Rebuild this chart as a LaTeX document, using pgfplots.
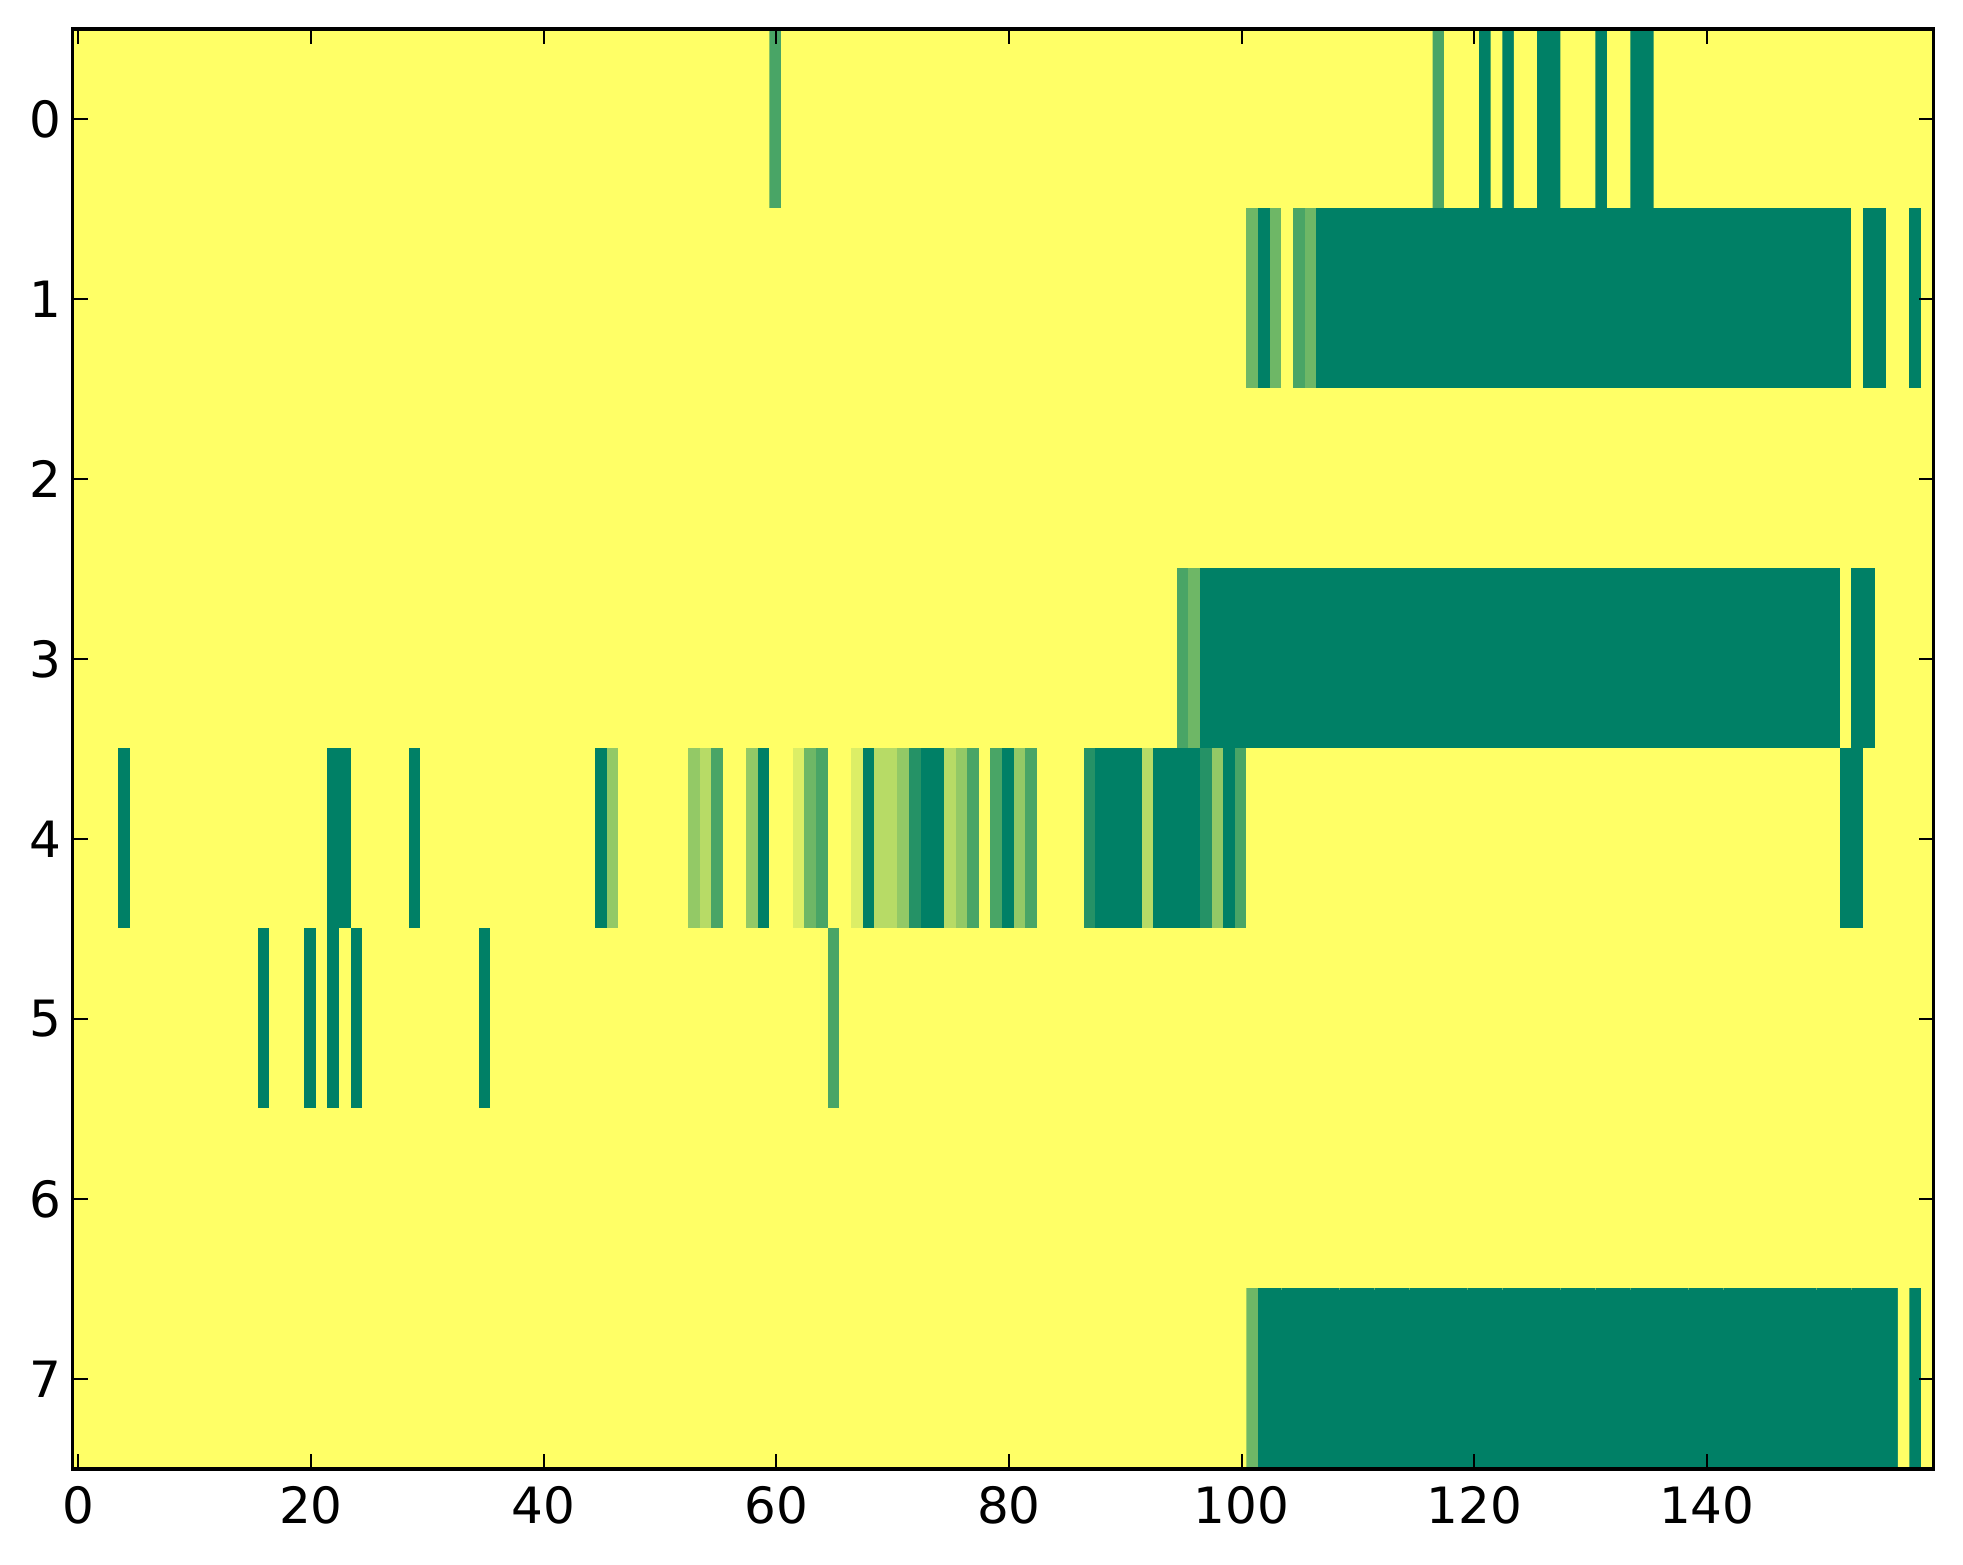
\documentclass[border=0pt]{standalone}
\usepackage{pgfplots}
\usepackage{pgfplotstable}
\pgfplotsset{compat=1.18}
\usepackage{fontspec}
\setmainfont{DejaVu Sans}
% values on a 0..7 scale, 8 rows x 160 columns, row by row
\pgfplotstableread[row sep=\\]{
c\\
7\\7\\7\\7\\7\\7\\7\\7\\7\\7\\ % r0 c0
7\\7\\7\\7\\7\\7\\7\\7\\7\\7\\ % r0 c10
7\\7\\7\\7\\7\\7\\7\\7\\7\\7\\ % r0 c20
7\\7\\7\\7\\7\\7\\7\\7\\7\\7\\ % r0 c30
7\\7\\7\\7\\7\\7\\7\\7\\7\\7\\ % r0 c40
7\\7\\7\\7\\7\\7\\7\\7\\7\\7\\ % r0 c50
2\\7\\7\\7\\7\\7\\7\\7\\7\\7\\ % r0 c60
7\\7\\7\\7\\7\\7\\7\\7\\7\\7\\ % r0 c70
7\\7\\7\\7\\7\\7\\7\\7\\7\\7\\ % r0 c80
7\\7\\7\\7\\7\\7\\7\\7\\7\\7\\ % r0 c90
7\\7\\7\\7\\7\\7\\7\\7\\7\\7\\ % r0 c100
7\\7\\7\\7\\7\\7\\7\\2\\7\\7\\ % r0 c110
7\\0\\7\\0\\7\\7\\0\\0\\7\\7\\ % r0 c120
7\\0\\7\\7\\0\\0\\7\\7\\7\\7\\ % r0 c130
7\\7\\7\\7\\7\\7\\7\\7\\7\\7\\ % r0 c140
7\\7\\7\\7\\7\\7\\7\\7\\7\\7\\ % r0 c150
7\\7\\7\\7\\7\\7\\7\\7\\7\\7\\ % r1 c0
7\\7\\7\\7\\7\\7\\7\\7\\7\\7\\ % r1 c10
7\\7\\7\\7\\7\\7\\7\\7\\7\\7\\ % r1 c20
7\\7\\7\\7\\7\\7\\7\\7\\7\\7\\ % r1 c30
7\\7\\7\\7\\7\\7\\7\\7\\7\\7\\ % r1 c40
7\\7\\7\\7\\7\\7\\7\\7\\7\\7\\ % r1 c50
7\\7\\7\\7\\7\\7\\7\\7\\7\\7\\ % r1 c60
7\\7\\7\\7\\7\\7\\7\\7\\7\\7\\ % r1 c70
7\\7\\7\\7\\7\\7\\7\\7\\7\\7\\ % r1 c80
7\\7\\7\\7\\7\\7\\7\\7\\7\\7\\ % r1 c90
7\\3\\0\\3\\7\\2\\3\\0\\0\\0\\ % r1 c100
0\\0\\0\\0\\0\\0\\0\\0\\0\\0\\ % r1 c110
0\\0\\0\\0\\0\\0\\0\\0\\0\\0\\ % r1 c120
0\\0\\0\\0\\0\\0\\0\\0\\0\\0\\ % r1 c130
0\\0\\0\\0\\0\\0\\0\\0\\0\\0\\ % r1 c140
0\\0\\0\\7\\0\\0\\7\\7\\0\\7\\ % r1 c150
7\\7\\7\\7\\7\\7\\7\\7\\7\\7\\ % r2 c0
7\\7\\7\\7\\7\\7\\7\\7\\7\\7\\ % r2 c10
7\\7\\7\\7\\7\\7\\7\\7\\7\\7\\ % r2 c20
7\\7\\7\\7\\7\\7\\7\\7\\7\\7\\ % r2 c30
7\\7\\7\\7\\7\\7\\7\\7\\7\\7\\ % r2 c40
7\\7\\7\\7\\7\\7\\7\\7\\7\\7\\ % r2 c50
7\\7\\7\\7\\7\\7\\7\\7\\7\\7\\ % r2 c60
7\\7\\7\\7\\7\\7\\7\\7\\7\\7\\ % r2 c70
7\\7\\7\\7\\7\\7\\7\\7\\7\\7\\ % r2 c80
7\\7\\7\\7\\7\\7\\7\\7\\7\\7\\ % r2 c90
7\\7\\7\\7\\7\\7\\7\\7\\7\\7\\ % r2 c100
7\\7\\7\\7\\7\\7\\7\\7\\7\\7\\ % r2 c110
7\\7\\7\\7\\7\\7\\7\\7\\7\\7\\ % r2 c120
7\\7\\7\\7\\7\\7\\7\\7\\7\\7\\ % r2 c130
7\\7\\7\\7\\7\\7\\7\\7\\7\\7\\ % r2 c140
7\\7\\7\\7\\7\\7\\7\\7\\7\\7\\ % r2 c150
7\\7\\7\\7\\7\\7\\7\\7\\7\\7\\ % r3 c0
7\\7\\7\\7\\7\\7\\7\\7\\7\\7\\ % r3 c10
7\\7\\7\\7\\7\\7\\7\\7\\7\\7\\ % r3 c20
7\\7\\7\\7\\7\\7\\7\\7\\7\\7\\ % r3 c30
7\\7\\7\\7\\7\\7\\7\\7\\7\\7\\ % r3 c40
7\\7\\7\\7\\7\\7\\7\\7\\7\\7\\ % r3 c50
7\\7\\7\\7\\7\\7\\7\\7\\7\\7\\ % r3 c60
7\\7\\7\\7\\7\\7\\7\\7\\7\\7\\ % r3 c70
7\\7\\7\\7\\7\\7\\7\\7\\7\\7\\ % r3 c80
7\\7\\7\\7\\7\\2\\3\\0\\0\\0\\ % r3 c90
0\\0\\0\\0\\0\\0\\0\\0\\0\\0\\ % r3 c100
0\\0\\0\\0\\0\\0\\0\\0\\0\\0\\ % r3 c110
0\\0\\0\\0\\0\\0\\0\\0\\0\\0\\ % r3 c120
0\\0\\0\\0\\0\\0\\0\\0\\0\\0\\ % r3 c130
0\\0\\0\\0\\0\\0\\0\\0\\0\\0\\ % r3 c140
0\\0\\7\\0\\0\\7\\7\\7\\7\\7\\ % r3 c150
7\\7\\7\\7\\0\\7\\7\\7\\7\\7\\ % r4 c0
7\\7\\7\\7\\7\\7\\7\\7\\7\\7\\ % r4 c10
7\\7\\0\\0\\7\\7\\7\\7\\7\\0\\ % r4 c20
7\\7\\7\\7\\7\\7\\7\\7\\7\\7\\ % r4 c30
7\\7\\7\\7\\7\\0\\4\\7\\7\\7\\ % r4 c40
7\\7\\7\\4\\5\\2\\7\\7\\4\\0\\ % r4 c50
7\\7\\6\\3\\2\\7\\7\\6\\0\\5\\ % r4 c60
5\\4\\1\\0\\0\\5\\4\\2\\7\\2\\ % r4 c70
0\\4\\2\\7\\7\\7\\7\\1\\0\\0\\ % r4 c80
0\\0\\5\\0\\0\\0\\0\\1\\4\\0\\ % r4 c90
2\\7\\7\\7\\7\\7\\7\\7\\7\\7\\ % r4 c100
7\\7\\7\\7\\7\\7\\7\\7\\7\\7\\ % r4 c110
7\\7\\7\\7\\7\\7\\7\\7\\7\\7\\ % r4 c120
7\\7\\7\\7\\7\\7\\7\\7\\7\\7\\ % r4 c130
7\\7\\7\\7\\7\\7\\7\\7\\7\\7\\ % r4 c140
7\\7\\0\\0\\7\\7\\7\\7\\7\\7\\ % r4 c150
7\\7\\7\\7\\7\\7\\7\\7\\7\\7\\ % r5 c0
7\\7\\7\\7\\7\\7\\0\\7\\7\\7\\ % r5 c10
0\\7\\0\\7\\0\\7\\7\\7\\7\\7\\ % r5 c20
7\\7\\7\\7\\7\\0\\7\\7\\7\\7\\ % r5 c30
7\\7\\7\\7\\7\\7\\7\\7\\7\\7\\ % r5 c40
7\\7\\7\\7\\7\\7\\7\\7\\7\\7\\ % r5 c50
7\\7\\7\\7\\7\\2\\7\\7\\7\\7\\ % r5 c60
7\\7\\7\\7\\7\\7\\7\\7\\7\\7\\ % r5 c70
7\\7\\7\\7\\7\\7\\7\\7\\7\\7\\ % r5 c80
7\\7\\7\\7\\7\\7\\7\\7\\7\\7\\ % r5 c90
7\\7\\7\\7\\7\\7\\7\\7\\7\\7\\ % r5 c100
7\\7\\7\\7\\7\\7\\7\\7\\7\\7\\ % r5 c110
7\\7\\7\\7\\7\\7\\7\\7\\7\\7\\ % r5 c120
7\\7\\7\\7\\7\\7\\7\\7\\7\\7\\ % r5 c130
7\\7\\7\\7\\7\\7\\7\\7\\7\\7\\ % r5 c140
7\\7\\7\\7\\7\\7\\7\\7\\7\\7\\ % r5 c150
7\\7\\7\\7\\7\\7\\7\\7\\7\\7\\ % r6 c0
7\\7\\7\\7\\7\\7\\7\\7\\7\\7\\ % r6 c10
7\\7\\7\\7\\7\\7\\7\\7\\7\\7\\ % r6 c20
7\\7\\7\\7\\7\\7\\7\\7\\7\\7\\ % r6 c30
7\\7\\7\\7\\7\\7\\7\\7\\7\\7\\ % r6 c40
7\\7\\7\\7\\7\\7\\7\\7\\7\\7\\ % r6 c50
7\\7\\7\\7\\7\\7\\7\\7\\7\\7\\ % r6 c60
7\\7\\7\\7\\7\\7\\7\\7\\7\\7\\ % r6 c70
7\\7\\7\\7\\7\\7\\7\\7\\7\\7\\ % r6 c80
7\\7\\7\\7\\7\\7\\7\\7\\7\\7\\ % r6 c90
7\\7\\7\\7\\7\\7\\7\\7\\7\\7\\ % r6 c100
7\\7\\7\\7\\7\\7\\7\\7\\7\\7\\ % r6 c110
7\\7\\7\\7\\7\\7\\7\\7\\7\\7\\ % r6 c120
7\\7\\7\\7\\7\\7\\7\\7\\7\\7\\ % r6 c130
7\\7\\7\\7\\7\\7\\7\\7\\7\\7\\ % r6 c140
7\\7\\7\\7\\7\\7\\7\\7\\7\\7\\ % r6 c150
7\\7\\7\\7\\7\\7\\7\\7\\7\\7\\ % r7 c0
7\\7\\7\\7\\7\\7\\7\\7\\7\\7\\ % r7 c10
7\\7\\7\\7\\7\\7\\7\\7\\7\\7\\ % r7 c20
7\\7\\7\\7\\7\\7\\7\\7\\7\\7\\ % r7 c30
7\\7\\7\\7\\7\\7\\7\\7\\7\\7\\ % r7 c40
7\\7\\7\\7\\7\\7\\7\\7\\7\\7\\ % r7 c50
7\\7\\7\\7\\7\\7\\7\\7\\7\\7\\ % r7 c60
7\\7\\7\\7\\7\\7\\7\\7\\7\\7\\ % r7 c70
7\\7\\7\\7\\7\\7\\7\\7\\7\\7\\ % r7 c80
7\\7\\7\\7\\7\\7\\7\\7\\7\\7\\ % r7 c90
7\\3\\0\\0\\0\\0\\0\\0\\0\\0\\ % r7 c100
0\\0\\0\\0\\0\\0\\0\\0\\0\\0\\ % r7 c110
0\\0\\0\\0\\0\\0\\0\\0\\0\\0\\ % r7 c120
0\\0\\0\\0\\0\\0\\0\\0\\0\\0\\ % r7 c130
0\\0\\0\\0\\0\\0\\0\\0\\0\\0\\ % r7 c140
0\\0\\0\\0\\0\\0\\0\\7\\0\\7\\ % r7 c150
}\heatdata

\begin{document}
\begin{tikzpicture}
\begin{axis}[
  name=ax,
  scale only axis,
  width=372.2pt, height=288pt,
  xmin=-0.5, xmax=159.5,
  ymin=-0.5, ymax=7.5,
  y dir=reverse,
  xtick={0,20,...,140},
  ytick={0,...,7},
  tick align=inside,
  tick pos=both,
  major tick length=3pt,
  tick style={black, line width=0.4pt},
  axis line style={black, line width=0.7pt},
  axis on top,
  colormap={summer}{rgb255=(0,128,102) rgb255=(255,255,102)},
  point meta min=0, point meta max=7,
  ticklabel style={font=\fontsize{10}{12}\selectfont},
  yticklabel style={xshift=1.2pt},
  /pgf/number format/assume math mode=true,
]
\addplot[matrix plot, mesh/cols=160, mesh/rows=8, point meta=explicit]
  table[x index=0, y index=0, meta index=0,
        x expr={mod(\coordindex,160)}, y expr={floor(\coordindex/160)}] {\heatdata};
\end{axis}
\path ([xshift=-14.5pt,yshift=-19pt]ax.south west) rectangle ([xshift=5.86pt,yshift=5.8pt]ax.north east);
\end{tikzpicture}
\end{document}
